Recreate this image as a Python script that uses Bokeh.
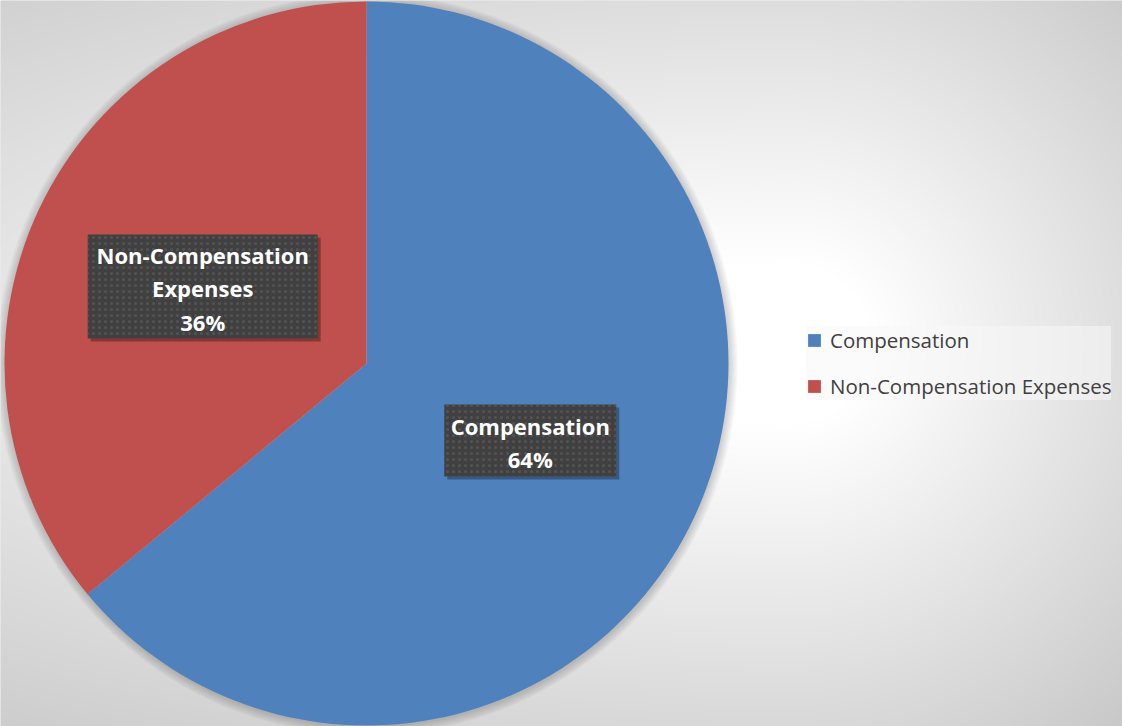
import numpy as np
from bokeh.plotting import figure
from bokeh.models import Legend, LegendItem, ColumnDataSource
from bokeh.core.properties import value
from bokeh.embed import file_html
from bokeh.resources import INLINE

# ---- data ----
categories = ["Compensation", "Non-Compensation Expenses"]
label_names = ["Compensation", "Non-Compensation\nExpenses"]
shares = [64, 36]
colors = ["#4F81BD", "#C0504D"]
box_w = [172, 230]   # label box sizes (screen px)
box_h = [72, 104]

W, H = 1122, 726
CX, CY, R = 366.0, 363.0, 362.0

p = figure(width=W, height=H, x_range=(0, W), y_range=(0, H),
           output_backend="svg", toolbar_location=None, min_border=0)
p.axis.visible = False
p.grid.visible = False
p.outline_line_color = None
p.background_fill_color = "#d8d8d8"
p.border_fill_color = "#d8d8d8"

# ---- background radial gradient ----
gw, gh = W // 2, H // 2
xs = (np.arange(gw) + 0.5) * (W / gw)
ys = (np.arange(gh) + 0.5) * (H / gh)
XX, YY = np.meshgrid(xs, ys)
gcx, gcy = 790.0, 383.0
dx = XX - gcx
dx = np.where(dx < 0, dx * 0.35, dx)
dy = YY - gcy
d = np.sqrt(dx * dx + dy * dy)
v = np.clip(238 - 0.128 * (d - 215), 198, 255).astype(np.uint8)
img = np.empty((gh, gw), dtype=np.uint32)
view = img.view(dtype=np.uint8).reshape((gh, gw, 4))
view[..., 0] = v
view[..., 1] = v
view[..., 2] = v
view[..., 3] = 255
p.image_rgba(image=[img], x=0, y=0, dw=W, dh=H)

# ---- pie soft shadow ----
for i in range(1, 10):
    p.circle(x=[CX + 0.5], y=[CY - 1.0], radius=R + i, fill_color="black",
             fill_alpha=0.018, line_color=None)

# ---- pie ----
total = float(sum(shares))
fracs = [s / total for s in shares]
starts, ends, mids = [], [], []
cum = 0.0
for f in fracs:
    s = np.pi / 2 - 2 * np.pi * cum
    e = s - 2 * np.pi * f
    starts.append(s)
    ends.append(e)
    mids.append((s + e) / 2)
    cum += f

src = ColumnDataSource(dict(cat=categories, start=starts, end=ends, color=colors,
                            x=[CX] * len(shares), y=[CY] * len(shares)))
wr = p.wedge(x="x", y="y", radius=R, start_angle="start", end_angle="end",
             direction="clock", fill_color="color", line_color=None, source=src)

# ---- data labels ----
lx = [CX + 0.5 * R * np.cos(m) for m in mids]
ly = [CY + 0.5 * R * np.sin(m) for m in mids]
texts = [f"{n}\n{round(f * 100)}%" for n, f in zip(label_names, fracs)]

lsrc = ColumnDataSource(dict(x=lx, y=ly, sx=[x + 3 for x in lx], sy=[y - 3 for y in ly],
                             ty=[y - 2 for y in ly], w=box_w, h=box_h, text=texts))
p.rect(x="sx", y="sy", width="w", height="h", width_units="screen", height_units="screen",
       fill_color="black", fill_alpha=0.3, line_color=None, source=lsrc)
p.rect(x="x", y="y", width="w", height="h", width_units="screen", height_units="screen",
       fill_color="#404040", line_color=None, hatch_pattern="dot", hatch_color="#6a6a6a",
       hatch_scale=6, hatch_weight=1, hatch_alpha=0.45, source=lsrc)
p.text(x="x", y="ty", text="text", text_align="center", text_baseline="middle",
       text_font=value("Open Sans"), text_font_style="bold", text_font_size="22px",
       text_color="white", text_line_height=1.12, source=lsrc)

# ---- legend ----
items = [LegendItem(label=c, renderers=[wr], index=i) for i, c in enumerate(categories)]
legend = Legend(items=items, location=(806, 326), orientation="vertical",
                label_text_font="Open Sans", label_text_font_size="20.5px",
                label_text_color="#404040", glyph_width=16, glyph_height=16,
                label_height=24, label_standoff=8, spacing=18, padding=12, margin=0,
                border_line_color=None, background_fill_color="#f7f7f7",
                background_fill_alpha=0.55)
p.add_layout(legend)

open("out.html", "w").write(file_html(p, INLINE))
